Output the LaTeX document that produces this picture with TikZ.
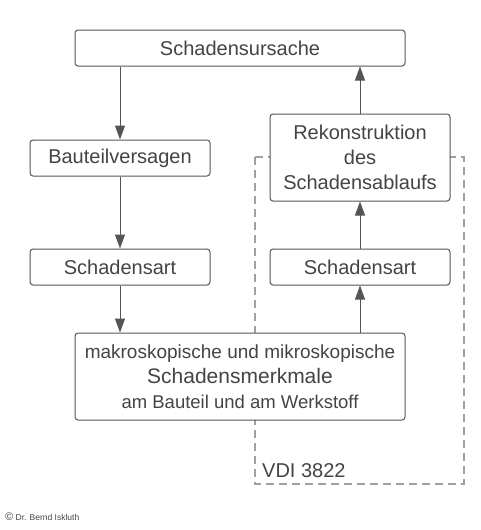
\documentclass[tikz,border=0pt]{standalone}
\usepackage{fontspec}
\setmainfont{Liberation Sans}
\usetikzlibrary{arrows.meta}
\definecolor{txt}{HTML}{444444}
\definecolor{ln}{HTML}{555555}
\definecolor{dsh}{HTML}{A0A0A0}
\begin{document}
\begin{tikzpicture}[x=1pt,y=-1pt,
  box/.style={draw=ln,line width=1pt,rounded corners=3pt,fill=white,text=txt,
    inner sep=0pt,align=center,font=\fontsize{20}{25}\selectfont},
  arr/.style={draw=ln,line width=1pt,-{Triangle[length=14pt,width=10pt]}},
  frame/.style={draw=dsh,line width=1.2pt,dash pattern=on 8pt off 5pt}]
\useasboundingbox (0,0) rectangle (480,530);
% dashed frame
\draw[frame] (255,157) -- (255,484) -- (464,484) -- (464,157) -- (450,157);
\draw[frame] (255,157) -- (270,157);
\node[box,minimum width=330pt,minimum height=36pt] (ursache) at (240,48) {Schadensursache};
\node[box,minimum width=180pt,minimum height=36pt] (versagen) at (120,158) {Bauteilversagen};
\node[box,minimum width=180pt,minimum height=87pt] (rekon) at (360,157.5) {Rekonstruktion\\des\\Schadensablaufs};
\node[box,minimum width=180pt,minimum height=36pt] (artL) at (120,267) {Schadensart};
\node[box,minimum width=180pt,minimum height=36pt] (artR) at (360,267) {Schadensart};
\node[box,minimum width=330pt,minimum height=87pt] (merk) at (240,376.5)
  {{\fontsize{19}{24}\selectfont makroskopische und mikroskopische}\\
   {\fontsize{21}{24}\selectfont Schadensmerkmale}\\
   {\fontsize{18.5}{24}\selectfont am Bauteil und am Werkstoff}};
\node[text=txt,font=\fontsize{20}{24}\selectfont,anchor=base west,inner sep=0pt] (vdi) at (262,477) {VDI 3822};
\node[text=txt,font=\fontsize{8.5}{10}\selectfont,anchor=west,inner sep=0pt] (copy) at (5,517) {\fontsize{11}{10}\selectfont ©\fontsize{8.5}{10}\selectfont\ Dr. Bernd Iskluth};
% arrows
\draw[arr] (ursache.south -| versagen) -- (versagen.north);
\draw[arr] (versagen.south) -- (artL.north);
\draw[arr] (artL.south) -- (merk.north -| artL);
\draw[arr] (merk.north -| artR) -- (artR.south);
\draw[arr] (artR.north) -- (rekon.south);
\draw[arr] (rekon.north) -- (ursache.south -| rekon);
\end{tikzpicture}
\end{document}
